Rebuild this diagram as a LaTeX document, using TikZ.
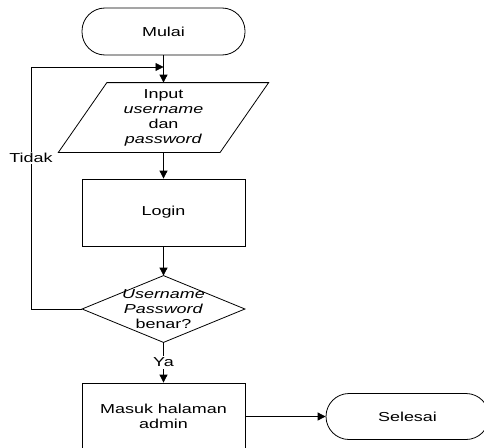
\documentclass[tikz,border=0pt]{standalone}
\usepackage{fontspec}
\setmainfont{Liberation Sans}[FakeStretch=1.38]
\usetikzlibrary{arrows.meta}
\begin{document}
\begin{tikzpicture}[x=1pt,y=-1pt,
  line width=0.8pt,
  font=\fontsize{13}{15}\selectfont,
  arr/.style={-{Triangle[length=8pt,width=8pt]}},
  term/.style={draw, rectangle, rounded corners=23pt, minimum width=163pt, minimum height=47pt, inner sep=0pt},
  procbox/.style={draw, rectangle, minimum width=163pt, minimum height=67pt, align=center, inner sep=0pt},
  ghost/.style={rectangle, draw=none, align=center, inner sep=0pt},
  lbl/.style={fill=white, inner sep=1.5pt}]
\useasboundingbox (0,0) rectangle (484,447);
\clip (0,0) rectangle (484,447);

\node[term] (mulai) at (163.5,31.5) {Mulai};
\node[ghost, minimum width=209.5pt, minimum height=69pt] (input) at (163.5,117.5)
  {Input\\\textit{username}\\dan\\\textit{password}};
\draw ([xshift=48.5pt]input.north west) -- (input.north east)
  -- ([xshift=-48.5pt]input.south east) -- (input.south west) -- cycle;
\node[procbox] (login) at (163.5,212.5) {Login};
\node[ghost, minimum width=162pt, minimum height=66pt] (dec) at (163.5,309)
  {\textit{Username}\\\textit{Password}\\benar?};
\draw (dec.north) -- (dec.east) -- (dec.south) -- (dec.west) -- cycle;
\node[procbox] (masuk) at (163.5,416.5) {Masuk halaman\\admin};
\node[term, minimum width=163pt, minimum height=46pt] (selesai) at (407.5,416.5) {Selesai};

\coordinate (c1) at (31,309);
\coordinate (c2) at (31,67);
\coordinate (loopin) at (163.5,67);

\draw[arr] (mulai.south) -- (input.north);
\draw[arr] (input.south) -- (login.north);
\draw[arr] (login.south) -- (dec.north);
\draw[arr] (dec.south) -- node[lbl] {Ya} (masuk.north);
\draw[arr] (dec.west) -- (c1) -- node[lbl, pos=0.624] {Tidak} (c2) -- (loopin);
\draw[arr] (masuk.east) -- (selesai.west);
\end{tikzpicture}
\end{document}
